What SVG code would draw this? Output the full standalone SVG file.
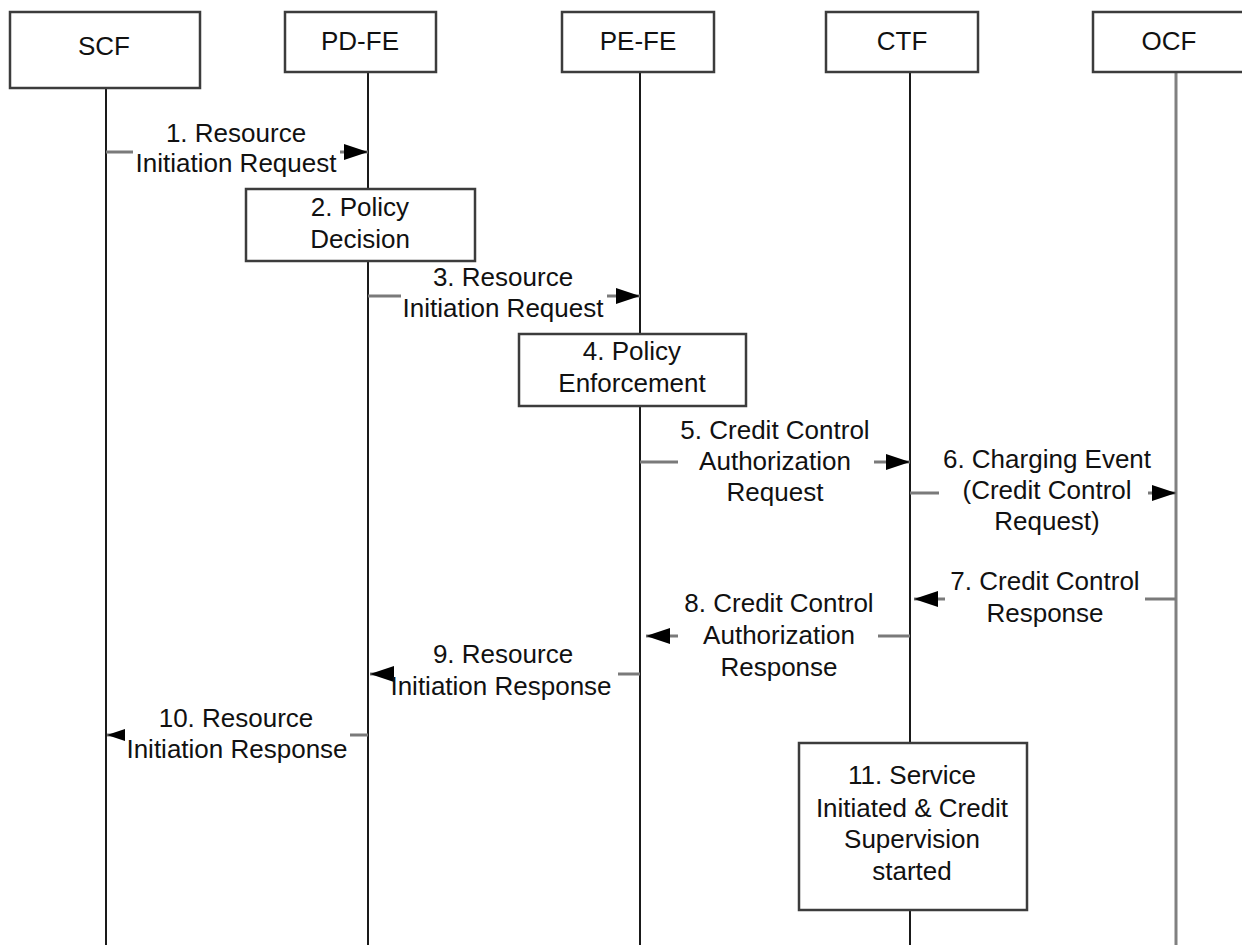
<svg xmlns="http://www.w3.org/2000/svg" width="1242" height="945" viewBox="0 0 1242 945">
<style>
  .box{fill:#fff;stroke:#3c3c3c;stroke-width:2.5}
  .life{stroke:#1a1a1a;stroke-width:2;fill:none}
  .life2{stroke:#808080;stroke-width:3;fill:none}
  .msg{stroke:#7a7a7a;stroke-width:3;fill:none}
  text{font-family:"Liberation Sans",Arial,sans-serif;font-size:26px;fill:#111;text-anchor:middle}
</style>
<defs>
  <marker id="ah" markerUnits="userSpaceOnUse" viewBox="0 0 24 16" refX="24" refY="8" markerWidth="24" markerHeight="16" orient="auto">
    <path d="M0,0 L24,8 L0,16 z" fill="#000"/>
  </marker>
  <marker id="ahs" markerUnits="userSpaceOnUse" viewBox="0 0 18 12" refX="18" refY="6" markerWidth="18" markerHeight="12" orient="auto">
    <path d="M0,0 L18,6 L0,12 z" fill="#000"/>
  </marker>
</defs>
<rect width="1242" height="945" fill="#fff"/>

<g id="lifelines">
  <line class="life" x1="106" y1="88" x2="106" y2="945"/>
  <line class="life" x1="368" y1="72" x2="368" y2="945"/>
  <line class="life" x1="640" y1="72" x2="640" y2="945"/>
  <line class="life" x1="910" y1="72" x2="910" y2="945"/>
  <line class="life2" x1="1176" y1="72" x2="1176" y2="945"/>
</g>

<g id="scf"><rect class="box" x="10" y="12" width="190" height="76"/><text x="104" y="55">SCF</text></g>
<g id="pdfe"><rect class="box" x="285" y="12" width="151" height="60"/><text x="360" y="50">PD-FE</text></g>
<g id="pefe"><rect class="box" x="562" y="12" width="152" height="60"/><text x="638" y="50">PE-FE</text></g>
<g id="ctf"><rect class="box" x="826" y="12" width="152" height="60"/><text x="902" y="50">CTF</text></g>
<g id="ocf"><rect class="box" x="1093" y="12" width="160" height="60"/><text x="1169" y="50">OCF</text></g>

<g id="step2"><rect class="box" x="246" y="189" width="229" height="72"/><text x="360"><tspan x="360" y="216">2. Policy</tspan><tspan x="360" y="248">Decision</tspan></text></g>
<g id="step4"><rect class="box" x="519" y="334" width="227" height="72"/><text x="632"><tspan x="632" y="360">4. Policy</tspan><tspan x="632" y="392">Enforcement</tspan></text></g>
<g id="step11"><rect class="box" x="799" y="743" width="228" height="167"/><text x="912"><tspan x="912" y="784">11. Service</tspan><tspan x="912" y="817">Initiated &amp; Credit</tspan><tspan x="912" y="848">Supervision</tspan><tspan x="912" y="880">started</tspan></text></g>

<g id="connectors">
  <path class="msg" d="M106,152 H133 M340,152 H368" marker-end="url(#ah)"/>
  <path class="msg" d="M368,296 H401 M607,296 H640" marker-end="url(#ah)"/>
  <path class="msg" d="M640,462 H678 M874,462 H910" marker-end="url(#ah)"/>
  <path class="msg" d="M910,493 H939 M1148,493 H1176" marker-end="url(#ah)"/>
  <path class="msg" d="M1176,599 H1145 M945,599 H914" marker-end="url(#ah)"/>
  <path class="msg" d="M910,636 H878 M678,636 H646" marker-end="url(#ah)"/>
  <path class="msg" d="M640,674 H618 M394,674 H370" marker-end="url(#ah)"/>
  <path class="msg" d="M368,735 H350 M125,735 H107" marker-end="url(#ahs)"/>
</g>

<g id="labels">
  <text><tspan x="236" y="142">1. Resource</tspan><tspan x="236" y="172">Initiation Request</tspan></text>
  <text><tspan x="503" y="286">3. Resource</tspan><tspan x="503" y="317">Initiation Request</tspan></text>
  <text><tspan x="775" y="439">5. Credit Control</tspan><tspan x="775" y="470">Authorization</tspan><tspan x="775" y="501">Request</tspan></text>
  <text><tspan x="1047" y="468">6. Charging Event</tspan><tspan x="1047" y="499">(Credit Control</tspan><tspan x="1047" y="530">Request)</tspan></text>
  <text><tspan x="1045" y="590">7. Credit Control</tspan><tspan x="1045" y="622">Response</tspan></text>
  <text><tspan x="779" y="612">8. Credit Control</tspan><tspan x="779" y="644">Authorization</tspan><tspan x="779" y="676">Response</tspan></text>
  <text><tspan x="503" y="663">9. Resource</tspan><tspan x="501" y="695">Initiation Response</tspan></text>
  <text><tspan x="236" y="727">10. Resource</tspan><tspan x="237" y="758">Initiation Response</tspan></text>
</g>
</svg>
